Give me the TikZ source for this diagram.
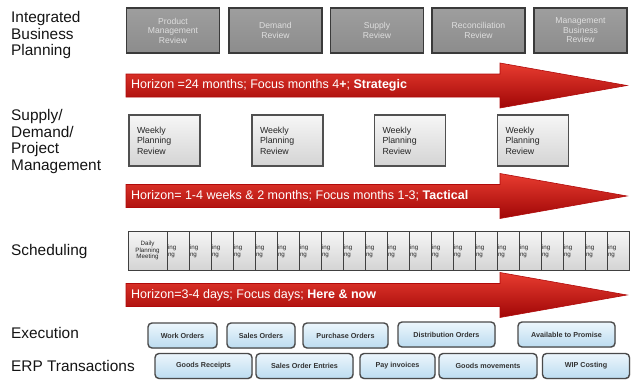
\documentclass[tikz,border=0pt]{standalone}
\usepackage{fontspec}
\setmainfont{Liberation Sans}
\usetikzlibrary{shadows}

\definecolor{ibpfill}{RGB}{140,140,140}
\definecolor{ibptop}{RGB}{158,158,158}
\definecolor{ibpline}{RGB}{58,58,58}
\definecolor{ibptext}{RGB}{222,222,222}
\definecolor{cardtop}{RGB}{246,246,246}
\definecolor{cardbot}{RGB}{212,212,212}
\definecolor{cardline}{RGB}{80,80,80}
\definecolor{redtop}{RGB}{232,60,48}
\definecolor{redmid}{RGB}{206,20,14}
\definecolor{redbot}{RGB}{160,6,6}
\definecolor{redline}{RGB}{176,10,10}
\definecolor{bluetop}{RGB}{236,246,252}
\definecolor{bluebot}{RGB}{188,220,240}
\definecolor{blueline}{RGB}{74,74,74}
\definecolor{labeltext}{RGB}{20,20,20}

\newcommand{\fsz}[2]{\fontsize{#1}{#2}\selectfont}

% red timeline arrow: #1 centre line, #2 name of its label node, #3 label
\newcommand{\redarrow}[3]{%
  \shade[top color=redtop, middle color=redmid, bottom color=redbot,
         draw=redline, line width=0.6pt]
    (126,{#1-11.5}) -- (500,{#1-11.5}) -- (500,{#1-22.5}) -- (627,#1)
    -- (500,{#1+22.5}) -- (500,{#1+11.5}) -- (126,{#1+11.5}) -- cycle;
  \node[arrowtext] (#2) at (131,#1) {#3};}

\begin{document}
\begin{tikzpicture}[x=1pt,y=-1pt,
  % base anchor of a multi-line title sits on its last line
  rowlabel/.style={anchor=base west, inner sep=0pt, align=left,
    text=labeltext, font=\fsz{15.4}{16.5}},
  ibpbox/.style={draw=ibpline, line width=1.8pt, top color=ibptop,
    bottom color=ibpfill, minimum width=93pt, minimum height=45pt,
    inner sep=0pt, align=center, text=ibptext, font=\fsz{8.6}{9.5}},
  weekbox/.style={draw=cardline, line width=1.3pt, top color=cardtop,
    bottom color=cardbot, minimum width=71pt, minimum height=51pt,
    text width=55pt, inner xsep=8pt, inner ysep=0pt, align=left,
    text=black!85, font=\fsz{8.8}{10.5}},
  daycard/.style={draw=black!75, line width=0.9pt, top color=cardtop,
    bottom color=cardbot, minimum width=39pt, minimum height=39pt,
    inner sep=0pt, align=center, text=black!85, font=\fsz{6.2}{6.4}},
  daystrip/.style={draw=black!75, line width=0.9pt, top color=cardtop,
    bottom color=cardbot, minimum width=22pt, minimum height=39pt,
    text width=20pt, inner xsep=1pt, inner ysep=0pt, align=left,
    text=black!85, font=\fsz{6.2}{6.4}},
  arrowtext/.style={anchor=west, inner sep=0pt, text=white,
    font=\fsz{12.5}{14}},
  erpbox/.style={draw=blueline, line width=1.4pt, rounded corners=4pt,
    top color=bluetop, bottom color=bluebot, inner sep=0pt,
    text=black!80, font=\bfseries\fsz{7.2}{8},
    drop shadow={opacity=0.25, shadow xshift=0.8pt, shadow yshift=-0.8pt}},
]
\useasboundingbox (0,0) rectangle (633,380);

% row titles
\node[rowlabel] (tibp)  at (11,55.5) {Integrated\\Business\\Planning};
\node[rowlabel] (tsdp)  at (11,170) {Supply/\\Demand/\\Project\\Management};
\node[rowlabel] (tsch)  at (11,255) {Scheduling};
\node[rowlabel] (texe)  at (11,338.3) {Execution};
\node[rowlabel] (terp)  at (11,371.7) {ERP Transactions};

% integrated business planning reviews
\node[ibpbox] (ibp1) at (173,30.5)   {Product\\Management\\Review};
\node[ibpbox] (ibp2) at (275.5,30.5) {Demand\\Review};
\node[ibpbox] (ibp3) at (377,30.5)   {Supply\\Review};
\node[ibpbox] (ibp4) at (478.5,30.5) {Reconciliation\\Review};
\node[ibpbox] (ibp5) at (580.5,30.5) {Management\\Business\\Review};

\redarrow{85.5}{hz1}{Horizon =24 months; Focus months 4\textbf{+}; \textbf{Strategic}}

% weekly planning reviews
\foreach \cx [count=\k] in {164.5,287.5,410,533}
  \node[weekbox] (wk\k) at (\cx,140.5) {Weekly\\Planning\\Review};

\redarrow{196}{hz2}{Horizon= 1-4 weeks \& 2 months; Focus months 1-3; \textbf{Tactical}}

% daily planning meetings: one full card, then a run of stacked strips
\node[daycard] (day0) at (147.5,250.5) {Daily\\Planning\\Meeting};
\foreach \k in {1,...,21}
  \node[daystrip] (day\k) at ({156+22*\k},250.5) {\mbox{}\\ing\\ng};

\redarrow{295}{hz3}{Horizon=3-4 days; Focus days; \textbf{Here \& now}}

% execution documents
\node[erpbox, minimum width=69pt, minimum height=25pt] (ex1) at (182.5,335.5) {Work Orders};
\node[erpbox, minimum width=68pt, minimum height=25pt] (ex2) at (261,335.5)   {Sales Orders};
\node[erpbox, minimum width=85pt, minimum height=25pt] (ex3) at (345.5,335.5) {Purchase Orders};
\node[erpbox, minimum width=97pt, minimum height=25pt] (ex4) at (446.5,334.5) {Distribution Orders};
\node[erpbox, minimum width=97pt, minimum height=25pt] (ex5) at (566.5,334.5) {Available to Promise};

% ERP transactions
\node[erpbox, minimum width=97pt, minimum height=25pt] (tr1) at (203.5,366) {Goods Receipts};
\node[erpbox, minimum width=97pt, minimum height=25pt] (tr2) at (304.5,366) {Sales Order Entries};
\node[erpbox, minimum width=75pt, minimum height=25pt] (tr3) at (397.5,366) {Pay invoices};
\node[erpbox, minimum width=98pt, minimum height=25pt] (tr4) at (488,366)   {Goods movements};
\node[erpbox, minimum width=87pt, minimum height=25pt] (tr5) at (586,366)   {WIP Costing};
\end{tikzpicture}
\end{document}
